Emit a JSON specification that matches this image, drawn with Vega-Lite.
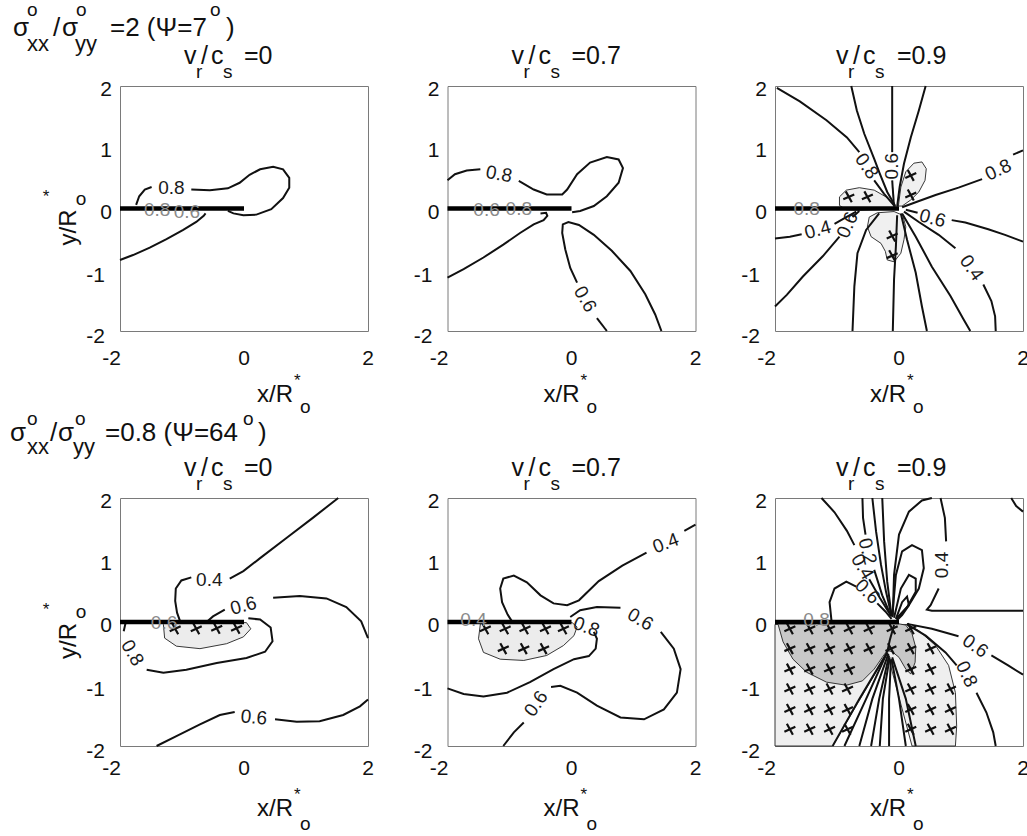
{
  "$schema": "https://vega.github.io/schema/vega-lite/v6.json",
  "background": "white",
  "padding": {"left": 9, "top": 0, "right": 0, "bottom": 0},
  "config": {
    "font": "Liberation Sans",
    "view": {"stroke": "#7a7a7a", "strokeWidth": 1},
    "text": {"font": "Liberation Sans", "fontSize": 25, "align": "left", "baseline": "alphabetic", "color": "#111"}
  },
  "datasets": {
    "crack": [{"x": -2, "y": 0}, {"x": 0, "y": 0}],
    "xt": [{"v": -2, "t": "-2"}, {"v": 0, "t": "0"}, {"v": 2, "t": "2"}],
    "yt": [{"v": -2, "t": "-2"}, {"v": -1, "t": "-1"}, {"v": 0, "t": "0"}, {"v": 1, "t": "1"}, {"v": 2, "t": "2"}],
    "lines": [
      {"p":"a","c":1,"x":-1.74,"y":0.06},{"p":"a","c":1,"x":-1.69,"y":0.2},{"p":"a","c":1,"x":-1.6,"y":0.31},{"p":"a","c":1,"x":-1.49,"y":0.35},
      {"p":"a","c":2,"x":-0.85,"y":0.31},{"p":"a","c":2,"x":-0.55,"y":0.3},{"p":"a","c":2,"x":-0.26,"y":0.33},{"p":"a","c":2,"x":-0.07,"y":0.42},{"p":"a","c":2,"x":0.09,"y":0.55},{"p":"a","c":2,"x":0.26,"y":0.64},{"p":"a","c":2,"x":0.47,"y":0.68},{"p":"a","c":2,"x":0.63,"y":0.64},{"p":"a","c":2,"x":0.73,"y":0.5},{"p":"a","c":2,"x":0.73,"y":0.34},{"p":"a","c":2,"x":0.63,"y":0.17},{"p":"a","c":2,"x":0.44,"y":-0.01},{"p":"a","c":2,"x":0.2,"y":-0.1},{"p":"a","c":2,"x":-0.01,"y":-0.11},{"p":"a","c":2,"x":-0.17,"y":-0.08},{"p":"a","c":2,"x":-0.26,"y":-0.04},
      {"p":"a","c":3,"x":-2,"y":-0.84},{"p":"a","c":3,"x":-1.79,"y":-0.76},{"p":"a","c":3,"x":-1.52,"y":-0.64},{"p":"a","c":3,"x":-1.25,"y":-0.5},{"p":"a","c":3,"x":-0.98,"y":-0.35},{"p":"a","c":3,"x":-0.77,"y":-0.22},{"p":"a","c":3,"x":-0.65,"y":-0.12},{"p":"a","c":3,"x":-0.62,"y":-0.08},
      {"p":"b","c":4,"x":-2,"y":0.46},{"p":"b","c":4,"x":-1.88,"y":0.56},{"p":"b","c":4,"x":-1.69,"y":0.62},{"p":"b","c":4,"x":-1.47,"y":0.64},
      {"p":"b","c":5,"x":-0.85,"y":0.45},{"p":"b","c":5,"x":-0.61,"y":0.31},{"p":"b","c":5,"x":-0.4,"y":0.23},{"p":"b","c":5,"x":-0.15,"y":0.23},{"p":"b","c":5,"x":-0.07,"y":0.31},{"p":"b","c":5,"x":0.09,"y":0.56},{"p":"b","c":5,"x":0.3,"y":0.75},{"p":"b","c":5,"x":0.57,"y":0.84},{"p":"b","c":5,"x":0.76,"y":0.8},{"p":"b","c":5,"x":0.83,"y":0.66},{"p":"b","c":5,"x":0.76,"y":0.42},{"p":"b","c":5,"x":0.57,"y":0.2},{"p":"b","c":5,"x":0.36,"y":0.04},{"p":"b","c":5,"x":0.14,"y":-0.04},{"p":"b","c":5,"x":0.01,"y":-0.06},
      {"p":"b","c":6,"x":-2,"y":-1.13},{"p":"b","c":6,"x":-1.74,"y":-0.99},{"p":"b","c":6,"x":-1.42,"y":-0.8},{"p":"b","c":6,"x":-1.1,"y":-0.59},{"p":"b","c":6,"x":-0.83,"y":-0.4},{"p":"b","c":6,"x":-0.61,"y":-0.26},{"p":"b","c":6,"x":-0.45,"y":-0.19},{"p":"b","c":6,"x":-0.39,"y":-0.12},{"p":"b","c":6,"x":-0.41,"y":-0.07},{"p":"b","c":6,"x":-0.5,"y":-0.08},
      {"p":"b","c":7,"x":0.57,"y":-2},{"p":"b","c":7,"x":0.41,"y":-1.79},
      {"p":"b","c":8,"x":0.09,"y":-1.21},{"p":"b","c":8,"x":-0.02,"y":-0.97},{"p":"b","c":8,"x":-0.1,"y":-0.67},{"p":"b","c":8,"x":-0.15,"y":-0.4},{"p":"b","c":8,"x":-0.14,"y":-0.26},{"p":"b","c":8,"x":-0.05,"y":-0.22},{"p":"b","c":8,"x":0.12,"y":-0.27},{"p":"b","c":8,"x":0.36,"y":-0.43},{"p":"b","c":8,"x":0.65,"y":-0.69},{"p":"b","c":8,"x":0.95,"y":-1.02},{"p":"b","c":8,"x":1.19,"y":-1.4},{"p":"b","c":8,"x":1.35,"y":-1.73},{"p":"b","c":8,"x":1.45,"y":-2},
      {"p":"c","c":9,"x":-1.97,"y":1.97},{"p":"c","c":9,"x":-1.6,"y":1.75},{"p":"c","c":9,"x":-1.17,"y":1.44},{"p":"c","c":9,"x":-0.84,"y":1.16},{"p":"c","c":9,"x":-0.64,"y":0.92},
      {"p":"c","c":10,"x":-0.4,"y":0.46},{"p":"c","c":10,"x":-0.24,"y":0.24},{"p":"c","c":10,"x":-0.08,"y":0.05},
      {"p":"c","c":11,"x":-0.77,"y":2},{"p":"c","c":11,"x":-0.68,"y":1.6},{"p":"c","c":11,"x":-0.56,"y":1.22},{"p":"c","c":11,"x":-0.4,"y":0.81},{"p":"c","c":11,"x":-0.31,"y":0.57},{"p":"c","c":11,"x":-0.19,"y":0.27},{"p":"c","c":11,"x":-0.06,"y":0.04},
      {"p":"c","c":12,"x":-0.11,"y":2},{"p":"c","c":12,"x":-0.11,"y":0.92},
      {"p":"c","c":13,"x":-0.11,"y":0.46},{"p":"c","c":13,"x":-0.08,"y":0.03},
      {"p":"c","c":14,"x":0.43,"y":2},{"p":"c","c":14,"x":0.32,"y":1.6},{"p":"c","c":14,"x":0.19,"y":1.16},{"p":"c","c":14,"x":0.08,"y":0.73},{"p":"c","c":14,"x":0.01,"y":0.35},{"p":"c","c":14,"x":-0.03,"y":0.03},
      {"p":"c","c":15,"x":2,"y":0.95},{"p":"c","c":15,"x":1.84,"y":0.88},
      {"p":"c","c":16,"x":1.34,"y":0.48},{"p":"c","c":16,"x":0.96,"y":0.34},{"p":"c","c":16,"x":0.59,"y":0.22},{"p":"c","c":16,"x":0.29,"y":0.11},{"p":"c","c":16,"x":0.05,"y":0.02},
      {"p":"c","c":17,"x":2,"y":-0.54},{"p":"c","c":17,"x":1.71,"y":-0.43},{"p":"c","c":17,"x":1.44,"y":-0.34},{"p":"c","c":17,"x":1.07,"y":-0.23},{"p":"c","c":17,"x":0.85,"y":-0.19},
      {"p":"c","c":18,"x":0.3,"y":-0.07},{"p":"c","c":18,"x":0.11,"y":-0.02},
      {"p":"c","c":19,"x":0.08,"y":-0.05},{"p":"c","c":19,"x":0.32,"y":-0.22},{"p":"c","c":19,"x":0.64,"y":-0.43},{"p":"c","c":19,"x":0.91,"y":-0.65},
      {"p":"c","c":20,"x":1.36,"y":-1.24},{"p":"c","c":20,"x":1.49,"y":-1.51},{"p":"c","c":20,"x":1.55,"y":-1.76},{"p":"c","c":20,"x":1.56,"y":-2},
      {"p":"c","c":21,"x":0.05,"y":-0.08},{"p":"c","c":21,"x":0.27,"y":-0.46},{"p":"c","c":21,"x":0.53,"y":-0.95},{"p":"c","c":21,"x":0.83,"y":-1.43},{"p":"c","c":21,"x":1.04,"y":-1.81},{"p":"c","c":21,"x":1.15,"y":-2},
      {"p":"c","c":22,"x":0.03,"y":-0.08},{"p":"c","c":22,"x":0.13,"y":-0.51},{"p":"c","c":22,"x":0.27,"y":-1.05},{"p":"c","c":22,"x":0.37,"y":-1.6},{"p":"c","c":22,"x":0.45,"y":-2},
      {"p":"c","c":23,"x":-0.03,"y":-0.11},{"p":"c","c":23,"x":-0.05,"y":-0.62},{"p":"c","c":23,"x":-0.08,"y":-1.16},{"p":"c","c":23,"x":-0.1,"y":-2},
      {"p":"c","c":24,"x":-0.32,"y":-0.08},{"p":"c","c":24,"x":-0.53,"y":-0.35},{"p":"c","c":24,"x":-0.67,"y":-0.73},{"p":"c","c":24,"x":-0.72,"y":-1.27},{"p":"c","c":24,"x":-0.75,"y":-2},
      {"p":"c","c":25,"x":-0.64,"y":-0.04},{"p":"c","c":25,"x":-0.75,"y":-0.14},
      {"p":"c","c":26,"x":-0.96,"y":-0.46},{"p":"c","c":26,"x":-1.23,"y":-0.78},{"p":"c","c":26,"x":-1.55,"y":-1.11},{"p":"c","c":26,"x":-1.81,"y":-1.41},{"p":"c","c":26,"x":-2,"y":-1.6},
      {"p":"c","c":27,"x":-2,"y":-0.49},{"p":"c","c":27,"x":-1.76,"y":-0.46},{"p":"c","c":27,"x":-1.57,"y":-0.42},
      {"p":"c","c":28,"x":-1.04,"y":-0.25},{"p":"c","c":28,"x":-0.85,"y":-0.14},{"p":"c","c":28,"x":-0.69,"y":-0.05},
      {"p":"d","c":32,"x":1.52,"y":2},{"p":"d","c":32,"x":1.11,"y":1.68},{"p":"d","c":32,"x":0.69,"y":1.36},{"p":"d","c":32,"x":0.26,"y":1.03},{"p":"d","c":32,"x":-0.01,"y":0.82},{"p":"d","c":32,"x":-0.23,"y":0.7},
      {"p":"d","c":33,"x":-0.85,"y":0.72},{"p":"d","c":33,"x":-1.01,"y":0.67},{"p":"d","c":33,"x":-1.1,"y":0.54},{"p":"d","c":33,"x":-1.11,"y":0.34},{"p":"d","c":33,"x":-1.08,"y":0.15},{"p":"d","c":33,"x":-1.03,"y":0.01},
      {"p":"d","c":34,"x":2,"y":-0.26},{"p":"d","c":34,"x":1.89,"y":0.01},{"p":"d","c":34,"x":1.65,"y":0.24},{"p":"d","c":34,"x":1.33,"y":0.38},{"p":"d","c":34,"x":0.9,"y":0.42},{"p":"d","c":34,"x":0.47,"y":0.39},
      {"p":"d","c":35,"x":-0.31,"y":0.2},{"p":"d","c":35,"x":-0.5,"y":0.09},{"p":"d","c":35,"x":-0.58,"y":0.02},
      {"p":"d","c":36,"x":-1.9,"y":0.03},{"p":"d","c":36,"x":-1.94,"y":-0.15},
      {"p":"d","c":37,"x":-1.57,"y":-0.77},{"p":"d","c":37,"x":-1.3,"y":-0.82},{"p":"d","c":37,"x":-0.93,"y":-0.77},{"p":"d","c":37,"x":-0.44,"y":-0.66},{"p":"d","c":37,"x":0.04,"y":-0.58},{"p":"d","c":37,"x":0.34,"y":-0.48},{"p":"d","c":37,"x":0.46,"y":-0.31},{"p":"d","c":37,"x":0.43,"y":-0.09},{"p":"d","c":37,"x":0.26,"y":0.04},{"p":"d","c":37,"x":0.07,"y":0.06},
      {"p":"d","c":38,"x":-1.41,"y":-2},{"p":"d","c":38,"x":-1.09,"y":-1.84},{"p":"d","c":38,"x":-0.71,"y":-1.65},{"p":"d","c":38,"x":-0.39,"y":-1.5},{"p":"d","c":38,"x":-0.15,"y":-1.45},
      {"p":"d","c":39,"x":0.5,"y":-1.57},{"p":"d","c":39,"x":0.85,"y":-1.61},{"p":"d","c":39,"x":1.22,"y":-1.6},{"p":"d","c":39,"x":1.6,"y":-1.5},{"p":"d","c":39,"x":1.87,"y":-1.36},{"p":"d","c":39,"x":2,"y":-1.25},
      {"p":"e","c":41,"x":2,"y":1.57},{"p":"e","c":41,"x":1.82,"y":1.47},
      {"p":"e","c":42,"x":1.21,"y":1.12},{"p":"e","c":42,"x":0.82,"y":0.91},{"p":"e","c":42,"x":0.44,"y":0.66},{"p":"e","c":42,"x":0.12,"y":0.35},{"p":"e","c":42,"x":-0.07,"y":0.27},{"p":"e","c":42,"x":-0.29,"y":0.3},{"p":"e","c":42,"x":-0.5,"y":0.43},{"p":"e","c":42,"x":-0.72,"y":0.64},{"p":"e","c":42,"x":-0.93,"y":0.75},{"p":"e","c":42,"x":-1.1,"y":0.7},{"p":"e","c":42,"x":-1.15,"y":0.54},{"p":"e","c":42,"x":-1.12,"y":0.32},{"p":"e","c":42,"x":-1.03,"y":0.12},{"p":"e","c":42,"x":-0.96,"y":0.01},
      {"p":"e","c":43,"x":-0.02,"y":0.08},{"p":"e","c":43,"x":0.14,"y":0.19},{"p":"e","c":43,"x":0.41,"y":0.24},{"p":"e","c":43,"x":0.79,"y":0.23},
      {"p":"e","c":44,"x":1.44,"y":-0.16},{"p":"e","c":44,"x":1.65,"y":-0.43},{"p":"e","c":44,"x":1.76,"y":-0.76},{"p":"e","c":44,"x":1.7,"y":-1.14},{"p":"e","c":44,"x":1.49,"y":-1.41},{"p":"e","c":44,"x":1.17,"y":-1.57},{"p":"e","c":44,"x":0.79,"y":-1.54},{"p":"e","c":44,"x":0.41,"y":-1.35},{"p":"e","c":44,"x":0.09,"y":-1.14},{"p":"e","c":44,"x":-0.18,"y":-1.03},{"p":"e","c":44,"x":-0.33,"y":-1.05},
      {"p":"e","c":45,"x":-0.77,"y":-1.62},{"p":"e","c":45,"x":-0.93,"y":-1.78},{"p":"e","c":45,"x":-1.1,"y":-2},
      {"p":"e","c":46,"x":-2,"y":-1.07},{"p":"e","c":46,"x":-1.74,"y":-1.16},{"p":"e","c":46,"x":-1.42,"y":-1.2},{"p":"e","c":46,"x":-1.04,"y":-1.14},{"p":"e","c":46,"x":-0.67,"y":-0.97},{"p":"e","c":46,"x":-0.29,"y":-0.76},{"p":"e","c":46,"x":0.04,"y":-0.6},{"p":"e","c":46,"x":0.28,"y":-0.55},{"p":"e","c":46,"x":0.39,"y":-0.43},{"p":"e","c":46,"x":0.41,"y":-0.27},{"p":"e","c":46,"x":0.36,"y":-0.16},
      {"p":"f","c":48,"x":-1.25,"y":2},{"p":"f","c":48,"x":-1.04,"y":1.77},{"p":"f","c":48,"x":-0.84,"y":1.47},{"p":"f","c":48,"x":-0.72,"y":1.24},
      {"p":"f","c":49,"x":-0.48,"y":0.69},{"p":"f","c":49,"x":-0.31,"y":0.39},{"p":"f","c":49,"x":-0.13,"y":0.1},
      {"p":"f","c":50,"x":-0.59,"y":2},{"p":"f","c":50,"x":-0.58,"y":1.68},{"p":"f","c":50,"x":-0.54,"y":1.41},
      {"p":"f","c":51,"x":-0.4,"y":0.84},{"p":"f","c":51,"x":-0.27,"y":0.43},{"p":"f","c":51,"x":-0.13,"y":0.1},
      {"p":"f","c":52,"x":-0.43,"y":2},{"p":"f","c":52,"x":-0.37,"y":1.46},{"p":"f","c":52,"x":-0.29,"y":0.92},{"p":"f","c":52,"x":-0.21,"y":0.49},{"p":"f","c":52,"x":-0.12,"y":0.1},
      {"p":"f","c":53,"x":-0.27,"y":2},{"p":"f","c":53,"x":-0.24,"y":1.3},{"p":"f","c":53,"x":-0.19,"y":0.65},{"p":"f","c":53,"x":-0.12,"y":0.1},
      {"p":"f","c":54,"x":-1.09,"y":0.03},{"p":"f","c":54,"x":-1.12,"y":0.32},{"p":"f","c":54,"x":-1.04,"y":0.54},{"p":"f","c":54,"x":-0.85,"y":0.65},{"p":"f","c":54,"x":-0.69,"y":0.57},
      {"p":"f","c":55,"x":-0.35,"y":0.3},{"p":"f","c":55,"x":-0.22,"y":0.17},{"p":"f","c":55,"x":-0.12,"y":0.05},
      {"p":"f","c":56,"x":-0.11,"y":0.08},{"p":"f","c":56,"x":-0.05,"y":0.76},{"p":"f","c":56,"x":0.05,"y":1.14},{"p":"f","c":56,"x":0.21,"y":1.24},{"p":"f","c":56,"x":0.37,"y":1.16},{"p":"f","c":56,"x":0.4,"y":0.87},{"p":"f","c":56,"x":0.32,"y":0.54},{"p":"f","c":56,"x":0.16,"y":0.27},{"p":"f","c":56,"x":-0.05,"y":0.05},
      {"p":"f","c":57,"x":-0.08,"y":0.07},{"p":"f","c":57,"x":0.03,"y":0.54},{"p":"f","c":57,"x":0.16,"y":0.76},{"p":"f","c":57,"x":0.27,"y":0.7},{"p":"f","c":57,"x":0.27,"y":0.49},{"p":"f","c":57,"x":0.13,"y":0.24},{"p":"f","c":57,"x":-0.04,"y":0.04},
      {"p":"f","c":58,"x":-0.05,"y":0.05},{"p":"f","c":58,"x":0.05,"y":0.32},{"p":"f","c":58,"x":0.13,"y":0.41},{"p":"f","c":58,"x":0.16,"y":0.27},{"p":"f","c":58,"x":0.05,"y":0.11},{"p":"f","c":58,"x":-0.03,"y":0.03},
      {"p":"f","c":59,"x":0.67,"y":2},{"p":"f","c":59,"x":0.74,"y":1.68},{"p":"f","c":59,"x":0.76,"y":1.3},
      {"p":"f","c":60,"x":0.64,"y":0.54},{"p":"f","c":60,"x":0.51,"y":0.27},{"p":"f","c":60,"x":0.45,"y":0.2},{"p":"f","c":60,"x":0.53,"y":0.18},{"p":"f","c":60,"x":2,"y":0.18},
      {"p":"f","c":61,"x":-0.1,"y":0.1},{"p":"f","c":61,"x":-0.08,"y":0.76},{"p":"f","c":61,"x":0,"y":1.41},{"p":"f","c":61,"x":0.16,"y":1.78},{"p":"f","c":61,"x":0.37,"y":1.96},{"p":"f","c":61,"x":0.53,"y":2},
      {"p":"f","c":62,"x":1.81,"y":2},{"p":"f","c":62,"x":1.89,"y":1.87},{"p":"f","c":62,"x":2,"y":1.78},
      {"p":"f","c":63,"x":0.13,"y":-0.03},{"p":"f","c":63,"x":0.53,"y":-0.11},{"p":"f","c":63,"x":0.96,"y":-0.23},
      {"p":"f","c":64,"x":1.49,"y":-0.54},{"p":"f","c":64,"x":1.76,"y":-0.7},{"p":"f","c":64,"x":2,"y":-0.85},
      {"p":"f","c":65,"x":0.13,"y":-0.04},{"p":"f","c":65,"x":0.43,"y":-0.22},{"p":"f","c":65,"x":0.75,"y":-0.49},{"p":"f","c":65,"x":0.93,"y":-0.7},
      {"p":"f","c":66,"x":1.25,"y":-1.14},{"p":"f","c":66,"x":1.41,"y":-1.46},{"p":"f","c":66,"x":1.52,"y":-1.78},{"p":"f","c":66,"x":1.56,"y":-2},
      {"p":"f","c":67,"x":-0.19,"y":-0.49},{"p":"f","c":67,"x":-0.64,"y":-1.24},{"p":"f","c":67,"x":-1.07,"y":-2},
      {"p":"f","c":68,"x":-0.19,"y":-0.49},{"p":"f","c":68,"x":-0.53,"y":-1.24},{"p":"f","c":68,"x":-0.88,"y":-2},
      {"p":"f","c":69,"x":-0.17,"y":-0.51},{"p":"f","c":69,"x":-0.43,"y":-1.24},{"p":"f","c":69,"x":-0.64,"y":-2},
      {"p":"f","c":70,"x":-0.16,"y":-0.54},{"p":"f","c":70,"x":-0.32,"y":-1.24},{"p":"f","c":70,"x":-0.45,"y":-2},
      {"p":"f","c":71,"x":-0.15,"y":-0.57},{"p":"f","c":71,"x":-0.26,"y":-1.24},{"p":"f","c":71,"x":-0.31,"y":-2},
      {"p":"f","c":72,"x":-0.13,"y":-0.6},{"p":"f","c":72,"x":-0.16,"y":-1.24},{"p":"f","c":72,"x":-0.16,"y":-2},
      {"p":"f","c":73,"x":-0.12,"y":-0.6},{"p":"f","c":73,"x":0,"y":-1.24},{"p":"f","c":73,"x":0.11,"y":-2},
      {"p":"f","c":74,"x":-0.11,"y":-0.57},{"p":"f","c":74,"x":0.11,"y":-1.24},{"p":"f","c":74,"x":0.27,"y":-2},
      {"p":"f","c":75,"x":-0.19,"y":-0.49},{"p":"f","c":75,"x":-0.15,"y":-0.3},{"p":"f","c":75,"x":-0.08,"y":-0.05}
    ],
    "zones": [
      {"p":"c","z":1,"c":29,"x":-0.01,"y":0.04},{"p":"c","z":1,"c":29,"x":0.03,"y":0.35},{"p":"c","z":1,"c":29,"x":0.11,"y":0.6},{"p":"c","z":1,"c":29,"x":0.24,"y":0.74},{"p":"c","z":1,"c":29,"x":0.37,"y":0.76},{"p":"c","z":1,"c":29,"x":0.44,"y":0.65},{"p":"c","z":1,"c":29,"x":0.42,"y":0.46},{"p":"c","z":1,"c":29,"x":0.32,"y":0.27},{"p":"c","z":1,"c":29,"x":0.19,"y":0.14},{"p":"c","z":1,"c":29,"x":0.05,"y":0.04},{"p":"c","z":1,"c":29,"x":-0.01,"y":0.04},
      {"p":"c","z":1,"c":30,"x":-0.05,"y":0.02},{"p":"c","z":1,"c":30,"x":-0.21,"y":0.19},{"p":"c","z":1,"c":30,"x":-0.4,"y":0.3},{"p":"c","z":1,"c":30,"x":-0.64,"y":0.34},{"p":"c","z":1,"c":30,"x":-0.85,"y":0.3},{"p":"c","z":1,"c":30,"x":-0.96,"y":0.19},{"p":"c","z":1,"c":30,"x":-0.96,"y":0.05},{"p":"c","z":1,"c":30,"x":-0.85,"y":-0.02},{"p":"c","z":1,"c":30,"x":-0.64,"y":-0.03},{"p":"c","z":1,"c":30,"x":-0.37,"y":-0.02},{"p":"c","z":1,"c":30,"x":-0.05,"y":0.02},
      {"p":"c","z":1,"c":31,"x":-0.08,"y":-0.05},{"p":"c","z":1,"c":31,"x":-0.35,"y":-0.07},{"p":"c","z":1,"c":31,"x":-0.48,"y":-0.14},{"p":"c","z":1,"c":31,"x":-0.51,"y":-0.3},{"p":"c","z":1,"c":31,"x":-0.45,"y":-0.46},{"p":"c","z":1,"c":31,"x":-0.29,"y":-0.57},{"p":"c","z":1,"c":31,"x":-0.22,"y":-0.7},{"p":"c","z":1,"c":31,"x":-0.19,"y":-0.84},{"p":"c","z":1,"c":31,"x":-0.08,"y":-0.87},{"p":"c","z":1,"c":31,"x":0.03,"y":-0.73},{"p":"c","z":1,"c":31,"x":0.08,"y":-0.51},{"p":"c","z":1,"c":31,"x":0.11,"y":-0.3},{"p":"c","z":1,"c":31,"x":0.06,"y":-0.11},{"p":"c","z":1,"c":31,"x":-0.08,"y":-0.05},
      {"p":"d","z":1,"c":40,"x":-1.3,"y":-0.02},{"p":"d","z":1,"c":40,"x":-1.3,"y":-0.04},{"p":"d","z":1,"c":40,"x":-1.28,"y":-0.26},{"p":"d","z":1,"c":40,"x":-1.09,"y":-0.39},{"p":"d","z":1,"c":40,"x":-0.71,"y":-0.43},{"p":"d","z":1,"c":40,"x":-0.28,"y":-0.35},{"p":"d","z":1,"c":40,"x":-0.01,"y":-0.24},{"p":"d","z":1,"c":40,"x":0.11,"y":-0.11},{"p":"d","z":1,"c":40,"x":0.04,"y":-0.01},{"p":"d","z":1,"c":40,"x":-1.3,"y":-0.02},
      {"p":"e","z":1,"c":47,"x":-1.47,"y":-0.01},{"p":"e","z":1,"c":47,"x":-1.47,"y":-0.03},{"p":"e","z":1,"c":47,"x":-1.5,"y":-0.27},{"p":"e","z":1,"c":47,"x":-1.42,"y":-0.49},{"p":"e","z":1,"c":47,"x":-1.15,"y":-0.6},{"p":"e","z":1,"c":47,"x":-0.77,"y":-0.62},{"p":"e","z":1,"c":47,"x":-0.4,"y":-0.54},{"p":"e","z":1,"c":47,"x":-0.13,"y":-0.38},{"p":"e","z":1,"c":47,"x":0.04,"y":-0.22},{"p":"e","z":1,"c":47,"x":0.09,"y":-0.08},{"p":"e","z":1,"c":47,"x":0.01,"y":-0.01},{"p":"e","z":1,"c":47,"x":-1.47,"y":-0.01},
      {"p":"f","z":1,"c":76,"x":-2,"y":-0.04},{"p":"f","z":1,"c":76,"x":-2,"y":-2},{"p":"f","z":1,"c":76,"x":-1.07,"y":-2},{"p":"f","z":1,"c":76,"x":-0.19,"y":-0.5},{"p":"f","z":1,"c":76,"x":0.21,"y":-2},{"p":"f","z":1,"c":76,"x":0.91,"y":-2},{"p":"f","z":1,"c":76,"x":0.93,"y":-1.68},{"p":"f","z":1,"c":76,"x":0.91,"y":-1.14},{"p":"f","z":1,"c":76,"x":0.8,"y":-0.7},{"p":"f","z":1,"c":76,"x":0.59,"y":-0.38},{"p":"f","z":1,"c":76,"x":0.32,"y":-0.14},{"p":"f","z":1,"c":76,"x":0.13,"y":-0.04},{"p":"f","z":1,"c":76,"x":-2,"y":-0.04},
      {"p":"f","z":2,"c":77,"x":-1.95,"y":-0.04},{"p":"f","z":2,"c":77,"x":-1.87,"y":-0.32},{"p":"f","z":2,"c":77,"x":-1.71,"y":-0.6},{"p":"f","z":2,"c":77,"x":-1.49,"y":-0.81},{"p":"f","z":2,"c":77,"x":-1.17,"y":-0.97},{"p":"f","z":2,"c":77,"x":-0.85,"y":-1.02},{"p":"f","z":2,"c":77,"x":-0.59,"y":-0.95},{"p":"f","z":2,"c":77,"x":-0.4,"y":-0.76},{"p":"f","z":2,"c":77,"x":-0.27,"y":-0.57},{"p":"f","z":2,"c":77,"x":-0.19,"y":-0.46},{"p":"f","z":2,"c":77,"x":-0.11,"y":-0.48},{"p":"f","z":2,"c":77,"x":0,"y":-0.57},{"p":"f","z":2,"c":77,"x":0.11,"y":-0.76},{"p":"f","z":2,"c":77,"x":0.19,"y":-0.84},{"p":"f","z":2,"c":77,"x":0.26,"y":-0.65},{"p":"f","z":2,"c":77,"x":0.27,"y":-0.41},{"p":"f","z":2,"c":77,"x":0.21,"y":-0.19},{"p":"f","z":2,"c":77,"x":0.11,"y":-0.05},{"p":"f","z":2,"c":77,"x":0,"y":-0.03},{"p":"f","z":2,"c":77,"x":-1.95,"y":-0.03}
    ],
    "labels": [
      {"p":"a","t":"0.8","x":-1.17,"y":0.33,"r":0},{"p":"a","t":"0.8","x":-1.4,"y":-0.03,"r":0},{"p":"a","t":"0.6","x":-0.92,"y":-0.05,"r":0},
      {"p":"b","t":"0.8","x":-1.17,"y":0.56,"r":10},{"p":"b","t":"0.6","x":-1.37,"y":-0.03,"r":0},{"p":"b","t":"0.8","x":-0.85,"y":-0.01,"r":0},{"p":"b","t":"0.6","x":0.22,"y":-1.48,"r":60},
      {"p":"c","t":"0.8","x":-1.49,"y":0,"r":0},{"p":"c","t":"0.8","x":-0.52,"y":0.69,"r":55},{"p":"c","t":"0.6","x":-0.11,"y":0.69,"r":-90},{"p":"c","t":"0.8","x":1.6,"y":0.63,"r":-25},{"p":"c","t":"0.6","x":0.54,"y":-0.16,"r":15},{"p":"c","t":"0.4","x":1.17,"y":-0.97,"r":55},{"p":"c","t":"0.6","x":-0.83,"y":-0.27,"r":-65},{"p":"c","t":"0.4","x":-1.31,"y":-0.35,"r":-15},
      {"p":"d","t":"0.4","x":-0.56,"y":0.67,"r":0},{"p":"d","t":"0.6","x":-0.01,"y":0.26,"r":-15},{"p":"d","t":"0.8","x":-1.8,"y":-0.5,"r":60},{"p":"d","t":"0.6","x":0.16,"y":-1.54,"r":5},{"p":"d","t":"0.6","x":-1.29,"y":-0.01,"r":0},
      {"p":"e","t":"0.4","x":-1.58,"y":0.03,"r":0},{"p":"e","t":"0.4","x":1.52,"y":1.27,"r":-20},{"p":"e","t":"0.6","x":1.11,"y":0.04,"r":30},{"p":"e","t":"0.6","x":-0.57,"y":-1.32,"r":-55},{"p":"e","t":"0.8","x":0.24,"y":-0.08,"r":20},
      {"p":"f","t":"0.8","x":-1.33,"y":0.03,"r":0},{"p":"f","t":"0.4","x":-0.59,"y":0.89,"r":60},{"p":"f","t":"0.2","x":-0.51,"y":1.14,"r":75},{"p":"f","t":"0.6","x":-0.51,"y":0.49,"r":45},{"p":"f","t":"0.4","x":0.69,"y":0.92,"r":-90},{"p":"f","t":"0.6","x":1.23,"y":-0.39,"r":35},{"p":"f","t":"0.8","x":1.09,"y":-0.84,"r":65}
    ],
    "marks": [
      {"p":"c","x":0.19,"y":0.54},{"p":"c","x":0.19,"y":0.22},{"p":"c","x":-0.81,"y":0.19},{"p":"c","x":-0.51,"y":0.19},{"p":"c","x":-0.11,"y":-0.45},{"p":"c","x":-0.11,"y":-0.77},
      {"p":"d","x":-1.11,"y":-0.11},{"p":"d","x":-0.77,"y":-0.11},{"p":"d","x":-0.44,"y":-0.1},{"p":"d","x":-0.12,"y":-0.1},
      {"p":"e","x":-1.39,"y":-0.11},{"p":"e","x":-1.07,"y":-0.11},{"p":"e","x":-0.75,"y":-0.11},{"p":"e","x":-0.42,"y":-0.11},{"p":"e","x":-0.13,"y":-0.11},{"p":"e","x":-1.1,"y":-0.43},{"p":"e","x":-0.77,"y":-0.43},{"p":"e","x":-0.45,"y":-0.43},
      {"p":"f","x":-1.76,"y":-0.11},{"p":"f","x":-1.44,"y":-0.11},{"p":"f","x":-1.12,"y":-0.11},{"p":"f","x":-0.8,"y":-0.11},{"p":"f","x":-0.48,"y":-0.11},{"p":"f","x":-0.11,"y":-0.11},{"p":"f","x":0.19,"y":-0.11},
      {"p":"f","x":-1.76,"y":-0.43},{"p":"f","x":-1.44,"y":-0.43},{"p":"f","x":-1.12,"y":-0.43},{"p":"f","x":-0.8,"y":-0.43},{"p":"f","x":-0.48,"y":-0.43},{"p":"f","x":-0.13,"y":-0.43},{"p":"f","x":0.19,"y":-0.43},{"p":"f","x":0.51,"y":-0.43},
      {"p":"f","x":-1.76,"y":-0.76},{"p":"f","x":-1.44,"y":-0.76},{"p":"f","x":-1.12,"y":-0.76},{"p":"f","x":-0.8,"y":-0.76},{"p":"f","x":0.19,"y":-0.76},{"p":"f","x":0.51,"y":-0.76},
      {"p":"f","x":-1.76,"y":-1.08},{"p":"f","x":-1.44,"y":-1.08},{"p":"f","x":-1.12,"y":-1.08},{"p":"f","x":-0.83,"y":-1.08},{"p":"f","x":0.19,"y":-1.08},{"p":"f","x":0.51,"y":-1.08},{"p":"f","x":0.83,"y":-1.08},
      {"p":"f","x":-1.76,"y":-1.41},{"p":"f","x":-1.44,"y":-1.41},{"p":"f","x":-1.12,"y":-1.41},{"p":"f","x":-0.83,"y":-1.41},{"p":"f","x":0.19,"y":-1.41},{"p":"f","x":0.51,"y":-1.41},{"p":"f","x":0.83,"y":-1.41},
      {"p":"f","x":-1.76,"y":-1.73},{"p":"f","x":-1.44,"y":-1.73},{"p":"f","x":-1.12,"y":-1.73},{"p":"f","x":-0.83,"y":-1.73},{"p":"f","x":0.19,"y":-1.73},{"p":"f","x":0.51,"y":-1.73},{"p":"f","x":0.83,"y":-1.73}
    ]
  },
  "columns": 3,
  "bounds": "flush",
  "spacing": {"row": 167, "column": 79.5},
  "concat": [
    {
      "width": 248, "height": 245,
      "layer": [
        {"data": {"name": "lines"}, "transform": [{"filter": "datum.p == 'a'"}], "mark": {"type": "line", "strokeWidth": 2, "color": "#111"},
         "encoding": {"x": {"field": "x", "type": "quantitative", "scale": {"domain": [-2, 2]}, "axis": null}, "y": {"field": "y", "type": "quantitative", "scale": {"domain": [-2, 2]}, "axis": null}, "detail": {"field": "c", "type": "nominal"}, "order": {"value": null}}},
        {"data": {"name": "crack"}, "mark": {"type": "line", "strokeWidth": 4.5, "color": "#000"},
         "encoding": {"x": {"field": "x", "type": "quantitative", "scale": {"domain": [-2, 2]}, "axis": null}, "y": {"field": "y", "type": "quantitative", "scale": {"domain": [-2, 2]}, "axis": null}, "order": {"value": null}}},
        {"data": {"name": "labels"}, "transform": [{"filter": "datum.p == 'a' && !(abs(datum.y) < 0.06 && datum.x < 0)"}], "mark": {"type": "text", "align": "center", "baseline": "middle", "fontSize": 19, "color": "#1a1a1a"},
         "encoding": {"x": {"field": "x", "type": "quantitative", "scale": {"domain": [-2, 2]}, "axis": null}, "y": {"field": "y", "type": "quantitative", "scale": {"domain": [-2, 2]}, "axis": null}, "text": {"field": "t", "type": "nominal"}, "angle": {"field": "r", "type": "quantitative", "scale": null}}},
        {"data": {"name": "labels"}, "transform": [{"filter": "datum.p == 'a' && abs(datum.y) < 0.06 && datum.x < 0"}], "mark": {"type": "text", "align": "center", "baseline": "middle", "fontSize": 19, "color": "#8a8a8a"},
         "encoding": {"x": {"field": "x", "type": "quantitative", "scale": {"domain": [-2, 2]}, "axis": null}, "y": {"field": "y", "type": "quantitative", "scale": {"domain": [-2, 2]}, "axis": null}, "text": {"field": "t", "type": "nominal"}}},
        {"data": {"name": "xt"}, "transform": [{"filter": "datum.v >= 0"}], "mark": {"type": "text", "align": "center", "baseline": "top", "fontSize": 21, "dy": 17},
         "encoding": {"x": {"field": "v", "type": "quantitative", "scale": {"domain": [-2, 2]}, "axis": null}, "y": {"datum": -2, "type": "quantitative", "scale": {"domain": [-2, 2]}, "axis": null}, "text": {"field": "t", "type": "nominal"}}},
        {"data": {"name": "xt"}, "transform": [{"filter": "datum.v < 0"}], "mark": {"type": "text", "align": "right", "baseline": "top", "fontSize": 21, "dy": 17, "dx": 1},
         "encoding": {"x": {"field": "v", "type": "quantitative", "scale": {"domain": [-2, 2]}, "axis": null}, "y": {"datum": -2, "type": "quantitative", "scale": {"domain": [-2, 2]}, "axis": null}, "text": {"field": "t", "type": "nominal"}}},
        {"data": {"name": "yt"}, "transform": [{"filter": "datum.v >= 0"}], "mark": {"type": "text", "align": "right", "baseline": "middle", "fontSize": 21, "dx": -8, "dy": 4},
         "encoding": {"x": {"datum": -2, "type": "quantitative", "scale": {"domain": [-2, 2]}, "axis": null}, "y": {"field": "v", "type": "quantitative", "scale": {"domain": [-2, 2]}, "axis": null}, "text": {"field": "t", "type": "nominal"}}},
        {"data": {"name": "yt"}, "transform": [{"filter": "datum.v < 0"}], "mark": {"type": "text", "align": "right", "baseline": "middle", "fontSize": 21, "dx": -15, "dy": 6},
         "encoding": {"x": {"datum": -2, "type": "quantitative", "scale": {"domain": [-2, 2]}, "axis": null}, "y": {"field": "v", "type": "quantitative", "scale": {"domain": [-2, 2]}, "axis": null}, "text": {"field": "t", "type": "nominal"}}},
        {"data": {"values": [{}]},
         "encoding": {"x": {"datum": 0, "type": "quantitative", "scale": {"domain": [-2, 2]}, "axis": null}, "y": {"datum": 2, "type": "quantitative", "scale": {"domain": [-2, 2]}, "axis": null}},
         "layer": [
          {"mark": {"type": "text", "dx": -60, "dy": -22}, "encoding": {"text": {"value": "v"}}},
          {"mark": {"type": "text", "dx": -48, "dy": -8, "fontSize": 19}, "encoding": {"text": {"value": "r"}}},
          {"mark": {"type": "text", "dx": -43, "dy": -22}, "encoding": {"text": {"value": "/"}}},
          {"mark": {"type": "text", "dx": -33, "dy": -22}, "encoding": {"text": {"value": "c"}}},
          {"mark": {"type": "text", "dx": -21, "dy": -8, "fontSize": 19}, "encoding": {"text": {"value": "s"}}},
          {"mark": {"type": "text", "dx": 0, "dy": -22}, "encoding": {"text": {"value": "=0"}}}
         ]},
        {"data": {"values": [{}]},
         "encoding": {"x": {"datum": 0, "type": "quantitative", "scale": {"domain": [-2, 2]}, "axis": null}, "y": {"datum": -2, "type": "quantitative", "scale": {"domain": [-2, 2]}, "axis": null}},
         "layer": [
          {"mark": {"type": "text", "dx": 13, "dy": 71, "fontSize": 24}, "encoding": {"text": {"value": "x/R"}}},
          {"mark": {"type": "text", "dx": 50, "dy": 55, "fontSize": 17}, "encoding": {"text": {"value": "*"}}},
          {"mark": {"type": "text", "dx": 56, "dy": 82, "fontSize": 19}, "encoding": {"text": {"value": "o"}}}
         ]},
        {"data": {"values": [{}]},
         "encoding": {"x": {"datum": -2, "type": "quantitative", "scale": {"domain": [-2, 2]}, "axis": null}, "y": {"datum": 0, "type": "quantitative", "scale": {"domain": [-2, 2]}, "axis": null}},
         "layer": [
          {"mark": {"type": "text", "angle": -90, "align": "center", "dx": -19, "dy": -44, "fontSize": 24}, "encoding": {"text": {"value": "y/R"}}},
          {"mark": {"type": "text", "align": "center", "dx": -39, "dy": -4, "fontSize": 19}, "encoding": {"text": {"value": "o"}}},
          {"mark": {"type": "text", "align": "center", "dx": -74, "dy": -7, "fontSize": 17}, "encoding": {"text": {"value": "*"}}}
         ]},
        {"data": {"values": [{}]},
         "encoding": {"x": {"datum": -2, "type": "quantitative", "scale": {"domain": [-2, 2]}, "axis": null}, "y": {"datum": 2, "type": "quantitative", "scale": {"domain": [-2, 2]}, "axis": null}},
         "layer": [
          {"mark": {"type": "text", "dx": -107, "dy": -50, "fontSize": 26}, "encoding": {"text": {"value": "σ"}}},
          {"mark": {"type": "text", "dx": -93, "dy": -70, "fontSize": 19}, "encoding": {"text": {"value": "o"}}},
          {"mark": {"type": "text", "dx": -93, "dy": -35, "fontSize": 22}, "encoding": {"text": {"value": "xx"}}},
          {"mark": {"type": "text", "dx": -67, "dy": -50, "fontSize": 26}, "encoding": {"text": {"value": "/"}}},
          {"mark": {"type": "text", "dx": -58, "dy": -50, "fontSize": 26}, "encoding": {"text": {"value": "σ"}}},
          {"mark": {"type": "text", "dx": -44, "dy": -70, "fontSize": 19}, "encoding": {"text": {"value": "o"}}},
          {"mark": {"type": "text", "dx": -45, "dy": -35, "fontSize": 22}, "encoding": {"text": {"value": "yy"}}},
          {"mark": {"type": "text", "dx": -10, "dy": -50, "fontSize": 26}, "encoding": {"text": {"value": "=2 (Ψ=7"}}},
          {"mark": {"type": "text", "dx": 90, "dy": -70, "fontSize": 19}, "encoding": {"text": {"value": "o"}}},
          {"mark": {"type": "text", "dx": 106, "dy": -50, "fontSize": 26}, "encoding": {"text": {"value": ")"}}}
         ]}
      ]
    },
    {
      "width": 248, "height": 245,
      "layer": [
        {"data": {"name": "lines"}, "transform": [{"filter": "datum.p == 'b'"}], "mark": {"type": "line", "strokeWidth": 2, "color": "#111"},
         "encoding": {"x": {"field": "x", "type": "quantitative", "scale": {"domain": [-2, 2]}, "axis": null}, "y": {"field": "y", "type": "quantitative", "scale": {"domain": [-2, 2]}, "axis": null}, "detail": {"field": "c", "type": "nominal"}, "order": {"value": null}}},
        {"data": {"name": "crack"}, "mark": {"type": "line", "strokeWidth": 4.5, "color": "#000"},
         "encoding": {"x": {"field": "x", "type": "quantitative", "scale": {"domain": [-2, 2]}, "axis": null}, "y": {"field": "y", "type": "quantitative", "scale": {"domain": [-2, 2]}, "axis": null}, "order": {"value": null}}},
        {"data": {"name": "labels"}, "transform": [{"filter": "datum.p == 'b' && !(abs(datum.y) < 0.06 && datum.x < 0)"}], "mark": {"type": "text", "align": "center", "baseline": "middle", "fontSize": 19, "color": "#1a1a1a"},
         "encoding": {"x": {"field": "x", "type": "quantitative", "scale": {"domain": [-2, 2]}, "axis": null}, "y": {"field": "y", "type": "quantitative", "scale": {"domain": [-2, 2]}, "axis": null}, "text": {"field": "t", "type": "nominal"}, "angle": {"field": "r", "type": "quantitative", "scale": null}}},
        {"data": {"name": "labels"}, "transform": [{"filter": "datum.p == 'b' && abs(datum.y) < 0.06 && datum.x < 0"}], "mark": {"type": "text", "align": "center", "baseline": "middle", "fontSize": 19, "color": "#8a8a8a"},
         "encoding": {"x": {"field": "x", "type": "quantitative", "scale": {"domain": [-2, 2]}, "axis": null}, "y": {"field": "y", "type": "quantitative", "scale": {"domain": [-2, 2]}, "axis": null}, "text": {"field": "t", "type": "nominal"}}},
        {"data": {"name": "xt"}, "transform": [{"filter": "datum.v >= 0"}], "mark": {"type": "text", "align": "center", "baseline": "top", "fontSize": 21, "dy": 17},
         "encoding": {"x": {"field": "v", "type": "quantitative", "scale": {"domain": [-2, 2]}, "axis": null}, "y": {"datum": -2, "type": "quantitative", "scale": {"domain": [-2, 2]}, "axis": null}, "text": {"field": "t", "type": "nominal"}}},
        {"data": {"name": "xt"}, "transform": [{"filter": "datum.v < 0"}], "mark": {"type": "text", "align": "right", "baseline": "top", "fontSize": 21, "dy": 17, "dx": 1},
         "encoding": {"x": {"field": "v", "type": "quantitative", "scale": {"domain": [-2, 2]}, "axis": null}, "y": {"datum": -2, "type": "quantitative", "scale": {"domain": [-2, 2]}, "axis": null}, "text": {"field": "t", "type": "nominal"}}},
        {"data": {"name": "yt"}, "transform": [{"filter": "datum.v >= 0"}], "mark": {"type": "text", "align": "right", "baseline": "middle", "fontSize": 21, "dx": -8, "dy": 4},
         "encoding": {"x": {"datum": -2, "type": "quantitative", "scale": {"domain": [-2, 2]}, "axis": null}, "y": {"field": "v", "type": "quantitative", "scale": {"domain": [-2, 2]}, "axis": null}, "text": {"field": "t", "type": "nominal"}}},
        {"data": {"name": "yt"}, "transform": [{"filter": "datum.v < 0"}], "mark": {"type": "text", "align": "right", "baseline": "middle", "fontSize": 21, "dx": -15, "dy": 6},
         "encoding": {"x": {"datum": -2, "type": "quantitative", "scale": {"domain": [-2, 2]}, "axis": null}, "y": {"field": "v", "type": "quantitative", "scale": {"domain": [-2, 2]}, "axis": null}, "text": {"field": "t", "type": "nominal"}}},
        {"data": {"values": [{}]},
         "encoding": {"x": {"datum": 0, "type": "quantitative", "scale": {"domain": [-2, 2]}, "axis": null}, "y": {"datum": 2, "type": "quantitative", "scale": {"domain": [-2, 2]}, "axis": null}},
         "layer": [
          {"mark": {"type": "text", "dx": -60, "dy": -22}, "encoding": {"text": {"value": "v"}}},
          {"mark": {"type": "text", "dx": -48, "dy": -8, "fontSize": 19}, "encoding": {"text": {"value": "r"}}},
          {"mark": {"type": "text", "dx": -43, "dy": -22}, "encoding": {"text": {"value": "/"}}},
          {"mark": {"type": "text", "dx": -33, "dy": -22}, "encoding": {"text": {"value": "c"}}},
          {"mark": {"type": "text", "dx": -21, "dy": -8, "fontSize": 19}, "encoding": {"text": {"value": "s"}}},
          {"mark": {"type": "text", "dx": 0, "dy": -22}, "encoding": {"text": {"value": "=0.7"}}}
         ]},
        {"data": {"values": [{}]},
         "encoding": {"x": {"datum": 0, "type": "quantitative", "scale": {"domain": [-2, 2]}, "axis": null}, "y": {"datum": -2, "type": "quantitative", "scale": {"domain": [-2, 2]}, "axis": null}},
         "layer": [
          {"mark": {"type": "text", "dx": -28, "dy": 71, "fontSize": 24}, "encoding": {"text": {"value": "x/R"}}},
          {"mark": {"type": "text", "dx": 9, "dy": 55, "fontSize": 17}, "encoding": {"text": {"value": "*"}}},
          {"mark": {"type": "text", "dx": 15, "dy": 82, "fontSize": 19}, "encoding": {"text": {"value": "o"}}}
         ]}
      ]
    },
    {
      "width": 248, "height": 245,
      "layer": [
        {"data": {"name": "zones"}, "transform": [{"filter": "datum.p == 'c' && datum.z == 1"}], "mark": {"type": "line", "fill": "#f0f0f0", "color": "#222", "strokeWidth": 0.9},
         "encoding": {"x": {"field": "x", "type": "quantitative", "scale": {"domain": [-2, 2]}, "axis": null}, "y": {"field": "y", "type": "quantitative", "scale": {"domain": [-2, 2]}, "axis": null}, "detail": {"field": "c", "type": "nominal"}, "order": {"value": null}}},
        {"data": {"name": "marks"}, "transform": [{"filter": "datum.p == 'c'"}], "mark": {"type": "point", "shape": "M-0.55,-1L0.55,1M1,-0.45L-1,0.45", "size": 120, "filled": false, "color": "#111", "strokeWidth": 2.2, "opacity": 1},
         "encoding": {"x": {"field": "x", "type": "quantitative", "scale": {"domain": [-2, 2]}, "axis": null}, "y": {"field": "y", "type": "quantitative", "scale": {"domain": [-2, 2]}, "axis": null}}},
        {"data": {"name": "lines"}, "transform": [{"filter": "datum.p == 'c'"}], "mark": {"type": "line", "strokeWidth": 2, "color": "#111"},
         "encoding": {"x": {"field": "x", "type": "quantitative", "scale": {"domain": [-2, 2]}, "axis": null}, "y": {"field": "y", "type": "quantitative", "scale": {"domain": [-2, 2]}, "axis": null}, "detail": {"field": "c", "type": "nominal"}, "order": {"value": null}}},
        {"data": {"name": "crack"}, "mark": {"type": "line", "strokeWidth": 4.5, "color": "#000"},
         "encoding": {"x": {"field": "x", "type": "quantitative", "scale": {"domain": [-2, 2]}, "axis": null}, "y": {"field": "y", "type": "quantitative", "scale": {"domain": [-2, 2]}, "axis": null}, "order": {"value": null}}},
        {"data": {"name": "labels"}, "transform": [{"filter": "datum.p == 'c' && !(abs(datum.y) < 0.06 && datum.x < 0)"}], "mark": {"type": "text", "align": "center", "baseline": "middle", "fontSize": 19, "color": "#1a1a1a"},
         "encoding": {"x": {"field": "x", "type": "quantitative", "scale": {"domain": [-2, 2]}, "axis": null}, "y": {"field": "y", "type": "quantitative", "scale": {"domain": [-2, 2]}, "axis": null}, "text": {"field": "t", "type": "nominal"}, "angle": {"field": "r", "type": "quantitative", "scale": null}}},
        {"data": {"name": "labels"}, "transform": [{"filter": "datum.p == 'c' && abs(datum.y) < 0.06 && datum.x < 0"}], "mark": {"type": "text", "align": "center", "baseline": "middle", "fontSize": 19, "color": "#8a8a8a"},
         "encoding": {"x": {"field": "x", "type": "quantitative", "scale": {"domain": [-2, 2]}, "axis": null}, "y": {"field": "y", "type": "quantitative", "scale": {"domain": [-2, 2]}, "axis": null}, "text": {"field": "t", "type": "nominal"}}},
        {"data": {"name": "xt"}, "transform": [{"filter": "datum.v >= 0"}], "mark": {"type": "text", "align": "center", "baseline": "top", "fontSize": 21, "dy": 17},
         "encoding": {"x": {"field": "v", "type": "quantitative", "scale": {"domain": [-2, 2]}, "axis": null}, "y": {"datum": -2, "type": "quantitative", "scale": {"domain": [-2, 2]}, "axis": null}, "text": {"field": "t", "type": "nominal"}}},
        {"data": {"name": "xt"}, "transform": [{"filter": "datum.v < 0"}], "mark": {"type": "text", "align": "right", "baseline": "top", "fontSize": 21, "dy": 17, "dx": 1},
         "encoding": {"x": {"field": "v", "type": "quantitative", "scale": {"domain": [-2, 2]}, "axis": null}, "y": {"datum": -2, "type": "quantitative", "scale": {"domain": [-2, 2]}, "axis": null}, "text": {"field": "t", "type": "nominal"}}},
        {"data": {"name": "yt"}, "transform": [{"filter": "datum.v >= 0"}], "mark": {"type": "text", "align": "right", "baseline": "middle", "fontSize": 21, "dx": -8, "dy": 4},
         "encoding": {"x": {"datum": -2, "type": "quantitative", "scale": {"domain": [-2, 2]}, "axis": null}, "y": {"field": "v", "type": "quantitative", "scale": {"domain": [-2, 2]}, "axis": null}, "text": {"field": "t", "type": "nominal"}}},
        {"data": {"name": "yt"}, "transform": [{"filter": "datum.v < 0"}], "mark": {"type": "text", "align": "right", "baseline": "middle", "fontSize": 21, "dx": -15, "dy": 6},
         "encoding": {"x": {"datum": -2, "type": "quantitative", "scale": {"domain": [-2, 2]}, "axis": null}, "y": {"field": "v", "type": "quantitative", "scale": {"domain": [-2, 2]}, "axis": null}, "text": {"field": "t", "type": "nominal"}}},
        {"data": {"values": [{}]},
         "encoding": {"x": {"datum": 0, "type": "quantitative", "scale": {"domain": [-2, 2]}, "axis": null}, "y": {"datum": 2, "type": "quantitative", "scale": {"domain": [-2, 2]}, "axis": null}},
         "layer": [
          {"mark": {"type": "text", "dx": -63, "dy": -22}, "encoding": {"text": {"value": "v"}}},
          {"mark": {"type": "text", "dx": -51, "dy": -8, "fontSize": 19}, "encoding": {"text": {"value": "r"}}},
          {"mark": {"type": "text", "dx": -46, "dy": -22}, "encoding": {"text": {"value": "/"}}},
          {"mark": {"type": "text", "dx": -36, "dy": -22}, "encoding": {"text": {"value": "c"}}},
          {"mark": {"type": "text", "dx": -24, "dy": -8, "fontSize": 19}, "encoding": {"text": {"value": "s"}}},
          {"mark": {"type": "text", "dx": -2, "dy": -22}, "encoding": {"text": {"value": "=0.9"}}}
         ]},
        {"data": {"values": [{}]},
         "encoding": {"x": {"datum": 0, "type": "quantitative", "scale": {"domain": [-2, 2]}, "axis": null}, "y": {"datum": -2, "type": "quantitative", "scale": {"domain": [-2, 2]}, "axis": null}},
         "layer": [
          {"mark": {"type": "text", "dx": -29, "dy": 71, "fontSize": 24}, "encoding": {"text": {"value": "x/R"}}},
          {"mark": {"type": "text", "dx": 8, "dy": 55, "fontSize": 17}, "encoding": {"text": {"value": "*"}}},
          {"mark": {"type": "text", "dx": 14, "dy": 82, "fontSize": 19}, "encoding": {"text": {"value": "o"}}}
         ]}
      ]
    },
    {
      "width": 248, "height": 248,
      "layer": [
        {"data": {"name": "zones"}, "transform": [{"filter": "datum.p == 'd' && datum.z == 1"}], "mark": {"type": "line", "fill": "#ececec", "color": "#222", "strokeWidth": 0.9},
         "encoding": {"x": {"field": "x", "type": "quantitative", "scale": {"domain": [-2, 2]}, "axis": null}, "y": {"field": "y", "type": "quantitative", "scale": {"domain": [-2, 2]}, "axis": null}, "detail": {"field": "c", "type": "nominal"}, "order": {"value": null}}},
        {"data": {"name": "marks"}, "transform": [{"filter": "datum.p == 'd'"}], "mark": {"type": "point", "shape": "M-0.55,-1L0.55,1M1,-0.45L-1,0.45", "size": 120, "filled": false, "color": "#111", "strokeWidth": 2.2, "opacity": 1},
         "encoding": {"x": {"field": "x", "type": "quantitative", "scale": {"domain": [-2, 2]}, "axis": null}, "y": {"field": "y", "type": "quantitative", "scale": {"domain": [-2, 2]}, "axis": null}}},
        {"data": {"name": "lines"}, "transform": [{"filter": "datum.p == 'd'"}], "mark": {"type": "line", "strokeWidth": 2, "color": "#111"},
         "encoding": {"x": {"field": "x", "type": "quantitative", "scale": {"domain": [-2, 2]}, "axis": null}, "y": {"field": "y", "type": "quantitative", "scale": {"domain": [-2, 2]}, "axis": null}, "detail": {"field": "c", "type": "nominal"}, "order": {"value": null}}},
        {"data": {"name": "crack"}, "mark": {"type": "line", "strokeWidth": 4.5, "color": "#000"},
         "encoding": {"x": {"field": "x", "type": "quantitative", "scale": {"domain": [-2, 2]}, "axis": null}, "y": {"field": "y", "type": "quantitative", "scale": {"domain": [-2, 2]}, "axis": null}, "order": {"value": null}}},
        {"data": {"name": "labels"}, "transform": [{"filter": "datum.p == 'd' && !(abs(datum.y) < 0.06 && datum.x < 0)"}], "mark": {"type": "text", "align": "center", "baseline": "middle", "fontSize": 19, "color": "#1a1a1a"},
         "encoding": {"x": {"field": "x", "type": "quantitative", "scale": {"domain": [-2, 2]}, "axis": null}, "y": {"field": "y", "type": "quantitative", "scale": {"domain": [-2, 2]}, "axis": null}, "text": {"field": "t", "type": "nominal"}, "angle": {"field": "r", "type": "quantitative", "scale": null}}},
        {"data": {"name": "labels"}, "transform": [{"filter": "datum.p == 'd' && abs(datum.y) < 0.06 && datum.x < 0"}], "mark": {"type": "text", "align": "center", "baseline": "middle", "fontSize": 19, "color": "#8a8a8a"},
         "encoding": {"x": {"field": "x", "type": "quantitative", "scale": {"domain": [-2, 2]}, "axis": null}, "y": {"field": "y", "type": "quantitative", "scale": {"domain": [-2, 2]}, "axis": null}, "text": {"field": "t", "type": "nominal"}}},
        {"data": {"name": "xt"}, "transform": [{"filter": "datum.v >= 0"}], "mark": {"type": "text", "align": "center", "baseline": "top", "fontSize": 21, "dy": 12},
         "encoding": {"x": {"field": "v", "type": "quantitative", "scale": {"domain": [-2, 2]}, "axis": null}, "y": {"datum": -2, "type": "quantitative", "scale": {"domain": [-2, 2]}, "axis": null}, "text": {"field": "t", "type": "nominal"}}},
        {"data": {"name": "xt"}, "transform": [{"filter": "datum.v < 0"}], "mark": {"type": "text", "align": "right", "baseline": "top", "fontSize": 21, "dy": 12, "dx": 1},
         "encoding": {"x": {"field": "v", "type": "quantitative", "scale": {"domain": [-2, 2]}, "axis": null}, "y": {"datum": -2, "type": "quantitative", "scale": {"domain": [-2, 2]}, "axis": null}, "text": {"field": "t", "type": "nominal"}}},
        {"data": {"name": "yt"}, "transform": [{"filter": "datum.v >= 0"}], "mark": {"type": "text", "align": "right", "baseline": "middle", "fontSize": 21, "dx": -8, "dy": 4},
         "encoding": {"x": {"datum": -2, "type": "quantitative", "scale": {"domain": [-2, 2]}, "axis": null}, "y": {"field": "v", "type": "quantitative", "scale": {"domain": [-2, 2]}, "axis": null}, "text": {"field": "t", "type": "nominal"}}},
        {"data": {"name": "yt"}, "transform": [{"filter": "datum.v < 0"}], "mark": {"type": "text", "align": "right", "baseline": "middle", "fontSize": 21, "dx": -15, "dy": 6},
         "encoding": {"x": {"datum": -2, "type": "quantitative", "scale": {"domain": [-2, 2]}, "axis": null}, "y": {"field": "v", "type": "quantitative", "scale": {"domain": [-2, 2]}, "axis": null}, "text": {"field": "t", "type": "nominal"}}},
        {"data": {"values": [{}]},
         "encoding": {"x": {"datum": 0, "type": "quantitative", "scale": {"domain": [-2, 2]}, "axis": null}, "y": {"datum": 2, "type": "quantitative", "scale": {"domain": [-2, 2]}, "axis": null}},
         "layer": [
          {"mark": {"type": "text", "dx": -60, "dy": -22}, "encoding": {"text": {"value": "v"}}},
          {"mark": {"type": "text", "dx": -48, "dy": -8, "fontSize": 19}, "encoding": {"text": {"value": "r"}}},
          {"mark": {"type": "text", "dx": -43, "dy": -22}, "encoding": {"text": {"value": "/"}}},
          {"mark": {"type": "text", "dx": -33, "dy": -22}, "encoding": {"text": {"value": "c"}}},
          {"mark": {"type": "text", "dx": -21, "dy": -8, "fontSize": 19}, "encoding": {"text": {"value": "s"}}},
          {"mark": {"type": "text", "dx": 0, "dy": -22}, "encoding": {"text": {"value": "=0"}}}
         ]},
        {"data": {"values": [{}]},
         "encoding": {"x": {"datum": 0, "type": "quantitative", "scale": {"domain": [-2, 2]}, "axis": null}, "y": {"datum": -2, "type": "quantitative", "scale": {"domain": [-2, 2]}, "axis": null}},
         "layer": [
          {"mark": {"type": "text", "dx": 13, "dy": 70, "fontSize": 24}, "encoding": {"text": {"value": "x/R"}}},
          {"mark": {"type": "text", "dx": 50, "dy": 54, "fontSize": 17}, "encoding": {"text": {"value": "*"}}},
          {"mark": {"type": "text", "dx": 56, "dy": 84, "fontSize": 19}, "encoding": {"text": {"value": "o"}}}
         ]},
        {"data": {"values": [{}]},
         "encoding": {"x": {"datum": -2, "type": "quantitative", "scale": {"domain": [-2, 2]}, "axis": null}, "y": {"datum": 0, "type": "quantitative", "scale": {"domain": [-2, 2]}, "axis": null}},
         "layer": [
          {"mark": {"type": "text", "angle": -90, "align": "center", "dx": -19, "dy": -44, "fontSize": 24}, "encoding": {"text": {"value": "y/R"}}},
          {"mark": {"type": "text", "align": "center", "dx": -39, "dy": -4, "fontSize": 19}, "encoding": {"text": {"value": "o"}}},
          {"mark": {"type": "text", "align": "center", "dx": -74, "dy": -7, "fontSize": 17}, "encoding": {"text": {"value": "*"}}}
         ]},
        {"data": {"values": [{}]},
         "encoding": {"x": {"datum": -2, "type": "quantitative", "scale": {"domain": [-2, 2]}, "axis": null}, "y": {"datum": 2, "type": "quantitative", "scale": {"domain": [-2, 2]}, "axis": null}},
         "layer": [
          {"mark": {"type": "text", "dx": -110, "dy": -57, "fontSize": 26}, "encoding": {"text": {"value": "σ"}}},
          {"mark": {"type": "text", "dx": -93, "dy": -73, "fontSize": 19}, "encoding": {"text": {"value": "o"}}},
          {"mark": {"type": "text", "dx": -93, "dy": -44, "fontSize": 22}, "encoding": {"text": {"value": "xx"}}},
          {"mark": {"type": "text", "dx": -70, "dy": -57, "fontSize": 26}, "encoding": {"text": {"value": "/"}}},
          {"mark": {"type": "text", "dx": -62, "dy": -57, "fontSize": 26}, "encoding": {"text": {"value": "σ"}}},
          {"mark": {"type": "text", "dx": -45, "dy": -73, "fontSize": 19}, "encoding": {"text": {"value": "o"}}},
          {"mark": {"type": "text", "dx": -47, "dy": -44, "fontSize": 22}, "encoding": {"text": {"value": "yy"}}},
          {"mark": {"type": "text", "dx": -15, "dy": -57, "fontSize": 26}, "encoding": {"text": {"value": "=0.8 (Ψ=64"}}},
          {"mark": {"type": "text", "dx": 123, "dy": -73, "fontSize": 19}, "encoding": {"text": {"value": "o"}}},
          {"mark": {"type": "text", "dx": 138, "dy": -57, "fontSize": 26}, "encoding": {"text": {"value": ")"}}}
         ]}
      ]
    },
    {
      "width": 248, "height": 248,
      "layer": [
        {"data": {"name": "zones"}, "transform": [{"filter": "datum.p == 'e' && datum.z == 1"}], "mark": {"type": "line", "fill": "#ececec", "color": "#222", "strokeWidth": 0.9},
         "encoding": {"x": {"field": "x", "type": "quantitative", "scale": {"domain": [-2, 2]}, "axis": null}, "y": {"field": "y", "type": "quantitative", "scale": {"domain": [-2, 2]}, "axis": null}, "detail": {"field": "c", "type": "nominal"}, "order": {"value": null}}},
        {"data": {"name": "marks"}, "transform": [{"filter": "datum.p == 'e'"}], "mark": {"type": "point", "shape": "M-0.55,-1L0.55,1M1,-0.45L-1,0.45", "size": 120, "filled": false, "color": "#111", "strokeWidth": 2.2, "opacity": 1},
         "encoding": {"x": {"field": "x", "type": "quantitative", "scale": {"domain": [-2, 2]}, "axis": null}, "y": {"field": "y", "type": "quantitative", "scale": {"domain": [-2, 2]}, "axis": null}}},
        {"data": {"name": "lines"}, "transform": [{"filter": "datum.p == 'e'"}], "mark": {"type": "line", "strokeWidth": 2, "color": "#111"},
         "encoding": {"x": {"field": "x", "type": "quantitative", "scale": {"domain": [-2, 2]}, "axis": null}, "y": {"field": "y", "type": "quantitative", "scale": {"domain": [-2, 2]}, "axis": null}, "detail": {"field": "c", "type": "nominal"}, "order": {"value": null}}},
        {"data": {"name": "crack"}, "mark": {"type": "line", "strokeWidth": 4.5, "color": "#000"},
         "encoding": {"x": {"field": "x", "type": "quantitative", "scale": {"domain": [-2, 2]}, "axis": null}, "y": {"field": "y", "type": "quantitative", "scale": {"domain": [-2, 2]}, "axis": null}, "order": {"value": null}}},
        {"data": {"name": "labels"}, "transform": [{"filter": "datum.p == 'e' && !(abs(datum.y) < 0.06 && datum.x < 0)"}], "mark": {"type": "text", "align": "center", "baseline": "middle", "fontSize": 19, "color": "#1a1a1a"},
         "encoding": {"x": {"field": "x", "type": "quantitative", "scale": {"domain": [-2, 2]}, "axis": null}, "y": {"field": "y", "type": "quantitative", "scale": {"domain": [-2, 2]}, "axis": null}, "text": {"field": "t", "type": "nominal"}, "angle": {"field": "r", "type": "quantitative", "scale": null}}},
        {"data": {"name": "labels"}, "transform": [{"filter": "datum.p == 'e' && abs(datum.y) < 0.06 && datum.x < 0"}], "mark": {"type": "text", "align": "center", "baseline": "middle", "fontSize": 19, "color": "#8a8a8a"},
         "encoding": {"x": {"field": "x", "type": "quantitative", "scale": {"domain": [-2, 2]}, "axis": null}, "y": {"field": "y", "type": "quantitative", "scale": {"domain": [-2, 2]}, "axis": null}, "text": {"field": "t", "type": "nominal"}}},
        {"data": {"name": "xt"}, "transform": [{"filter": "datum.v >= 0"}], "mark": {"type": "text", "align": "center", "baseline": "top", "fontSize": 21, "dy": 12},
         "encoding": {"x": {"field": "v", "type": "quantitative", "scale": {"domain": [-2, 2]}, "axis": null}, "y": {"datum": -2, "type": "quantitative", "scale": {"domain": [-2, 2]}, "axis": null}, "text": {"field": "t", "type": "nominal"}}},
        {"data": {"name": "xt"}, "transform": [{"filter": "datum.v < 0"}], "mark": {"type": "text", "align": "right", "baseline": "top", "fontSize": 21, "dy": 12, "dx": 1},
         "encoding": {"x": {"field": "v", "type": "quantitative", "scale": {"domain": [-2, 2]}, "axis": null}, "y": {"datum": -2, "type": "quantitative", "scale": {"domain": [-2, 2]}, "axis": null}, "text": {"field": "t", "type": "nominal"}}},
        {"data": {"name": "yt"}, "transform": [{"filter": "datum.v >= 0"}], "mark": {"type": "text", "align": "right", "baseline": "middle", "fontSize": 21, "dx": -8, "dy": 4},
         "encoding": {"x": {"datum": -2, "type": "quantitative", "scale": {"domain": [-2, 2]}, "axis": null}, "y": {"field": "v", "type": "quantitative", "scale": {"domain": [-2, 2]}, "axis": null}, "text": {"field": "t", "type": "nominal"}}},
        {"data": {"name": "yt"}, "transform": [{"filter": "datum.v < 0"}], "mark": {"type": "text", "align": "right", "baseline": "middle", "fontSize": 21, "dx": -15, "dy": 6},
         "encoding": {"x": {"datum": -2, "type": "quantitative", "scale": {"domain": [-2, 2]}, "axis": null}, "y": {"field": "v", "type": "quantitative", "scale": {"domain": [-2, 2]}, "axis": null}, "text": {"field": "t", "type": "nominal"}}},
        {"data": {"values": [{}]},
         "encoding": {"x": {"datum": 0, "type": "quantitative", "scale": {"domain": [-2, 2]}, "axis": null}, "y": {"datum": 2, "type": "quantitative", "scale": {"domain": [-2, 2]}, "axis": null}},
         "layer": [
          {"mark": {"type": "text", "dx": -60, "dy": -22}, "encoding": {"text": {"value": "v"}}},
          {"mark": {"type": "text", "dx": -48, "dy": -8, "fontSize": 19}, "encoding": {"text": {"value": "r"}}},
          {"mark": {"type": "text", "dx": -43, "dy": -22}, "encoding": {"text": {"value": "/"}}},
          {"mark": {"type": "text", "dx": -33, "dy": -22}, "encoding": {"text": {"value": "c"}}},
          {"mark": {"type": "text", "dx": -21, "dy": -8, "fontSize": 19}, "encoding": {"text": {"value": "s"}}},
          {"mark": {"type": "text", "dx": 0, "dy": -22}, "encoding": {"text": {"value": "=0.7"}}}
         ]},
        {"data": {"values": [{}]},
         "encoding": {"x": {"datum": 0, "type": "quantitative", "scale": {"domain": [-2, 2]}, "axis": null}, "y": {"datum": -2, "type": "quantitative", "scale": {"domain": [-2, 2]}, "axis": null}},
         "layer": [
          {"mark": {"type": "text", "dx": -28, "dy": 70, "fontSize": 24}, "encoding": {"text": {"value": "x/R"}}},
          {"mark": {"type": "text", "dx": 9, "dy": 54, "fontSize": 17}, "encoding": {"text": {"value": "*"}}},
          {"mark": {"type": "text", "dx": 15, "dy": 84, "fontSize": 19}, "encoding": {"text": {"value": "o"}}}
         ]}
      ]
    },
    {
      "width": 248, "height": 248,
      "layer": [
        {"data": {"name": "zones"}, "transform": [{"filter": "datum.p == 'f' && datum.z == 1"}], "mark": {"type": "line", "fill": "#efefef", "color": "#222", "strokeWidth": 0.9},
         "encoding": {"x": {"field": "x", "type": "quantitative", "scale": {"domain": [-2, 2]}, "axis": null}, "y": {"field": "y", "type": "quantitative", "scale": {"domain": [-2, 2]}, "axis": null}, "detail": {"field": "c", "type": "nominal"}, "order": {"value": null}}},
        {"data": {"name": "zones"}, "transform": [{"filter": "datum.p == 'f' && datum.z == 2"}], "mark": {"type": "line", "fill": "#c8c8c8", "color": "#222", "strokeWidth": 0.9},
         "encoding": {"x": {"field": "x", "type": "quantitative", "scale": {"domain": [-2, 2]}, "axis": null}, "y": {"field": "y", "type": "quantitative", "scale": {"domain": [-2, 2]}, "axis": null}, "detail": {"field": "c", "type": "nominal"}, "order": {"value": null}}},
        {"data": {"name": "marks"}, "transform": [{"filter": "datum.p == 'f'"}], "mark": {"type": "point", "shape": "M-0.55,-1L0.55,1M1,-0.45L-1,0.45", "size": 120, "filled": false, "color": "#111", "strokeWidth": 2.2, "opacity": 1},
         "encoding": {"x": {"field": "x", "type": "quantitative", "scale": {"domain": [-2, 2]}, "axis": null}, "y": {"field": "y", "type": "quantitative", "scale": {"domain": [-2, 2]}, "axis": null}}},
        {"data": {"name": "lines"}, "transform": [{"filter": "datum.p == 'f'"}], "mark": {"type": "line", "strokeWidth": 2, "color": "#111"},
         "encoding": {"x": {"field": "x", "type": "quantitative", "scale": {"domain": [-2, 2]}, "axis": null}, "y": {"field": "y", "type": "quantitative", "scale": {"domain": [-2, 2]}, "axis": null}, "detail": {"field": "c", "type": "nominal"}, "order": {"value": null}}},
        {"data": {"name": "crack"}, "mark": {"type": "line", "strokeWidth": 4.5, "color": "#000"},
         "encoding": {"x": {"field": "x", "type": "quantitative", "scale": {"domain": [-2, 2]}, "axis": null}, "y": {"field": "y", "type": "quantitative", "scale": {"domain": [-2, 2]}, "axis": null}, "order": {"value": null}}},
        {"data": {"name": "labels"}, "transform": [{"filter": "datum.p == 'f' && !(abs(datum.y) < 0.06 && datum.x < 0)"}], "mark": {"type": "text", "align": "center", "baseline": "middle", "fontSize": 19, "color": "#1a1a1a"},
         "encoding": {"x": {"field": "x", "type": "quantitative", "scale": {"domain": [-2, 2]}, "axis": null}, "y": {"field": "y", "type": "quantitative", "scale": {"domain": [-2, 2]}, "axis": null}, "text": {"field": "t", "type": "nominal"}, "angle": {"field": "r", "type": "quantitative", "scale": null}}},
        {"data": {"name": "labels"}, "transform": [{"filter": "datum.p == 'f' && abs(datum.y) < 0.06 && datum.x < 0"}], "mark": {"type": "text", "align": "center", "baseline": "middle", "fontSize": 19, "color": "#8a8a8a"},
         "encoding": {"x": {"field": "x", "type": "quantitative", "scale": {"domain": [-2, 2]}, "axis": null}, "y": {"field": "y", "type": "quantitative", "scale": {"domain": [-2, 2]}, "axis": null}, "text": {"field": "t", "type": "nominal"}}},
        {"data": {"name": "xt"}, "transform": [{"filter": "datum.v >= 0"}], "mark": {"type": "text", "align": "center", "baseline": "top", "fontSize": 21, "dy": 12},
         "encoding": {"x": {"field": "v", "type": "quantitative", "scale": {"domain": [-2, 2]}, "axis": null}, "y": {"datum": -2, "type": "quantitative", "scale": {"domain": [-2, 2]}, "axis": null}, "text": {"field": "t", "type": "nominal"}}},
        {"data": {"name": "xt"}, "transform": [{"filter": "datum.v < 0"}], "mark": {"type": "text", "align": "right", "baseline": "top", "fontSize": 21, "dy": 12, "dx": 1},
         "encoding": {"x": {"field": "v", "type": "quantitative", "scale": {"domain": [-2, 2]}, "axis": null}, "y": {"datum": -2, "type": "quantitative", "scale": {"domain": [-2, 2]}, "axis": null}, "text": {"field": "t", "type": "nominal"}}},
        {"data": {"name": "yt"}, "transform": [{"filter": "datum.v >= 0"}], "mark": {"type": "text", "align": "right", "baseline": "middle", "fontSize": 21, "dx": -8, "dy": 4},
         "encoding": {"x": {"datum": -2, "type": "quantitative", "scale": {"domain": [-2, 2]}, "axis": null}, "y": {"field": "v", "type": "quantitative", "scale": {"domain": [-2, 2]}, "axis": null}, "text": {"field": "t", "type": "nominal"}}},
        {"data": {"name": "yt"}, "transform": [{"filter": "datum.v < 0"}], "mark": {"type": "text", "align": "right", "baseline": "middle", "fontSize": 21, "dx": -15, "dy": 6},
         "encoding": {"x": {"datum": -2, "type": "quantitative", "scale": {"domain": [-2, 2]}, "axis": null}, "y": {"field": "v", "type": "quantitative", "scale": {"domain": [-2, 2]}, "axis": null}, "text": {"field": "t", "type": "nominal"}}},
        {"data": {"values": [{}]},
         "encoding": {"x": {"datum": 0, "type": "quantitative", "scale": {"domain": [-2, 2]}, "axis": null}, "y": {"datum": 2, "type": "quantitative", "scale": {"domain": [-2, 2]}, "axis": null}},
         "layer": [
          {"mark": {"type": "text", "dx": -63, "dy": -22}, "encoding": {"text": {"value": "v"}}},
          {"mark": {"type": "text", "dx": -51, "dy": -8, "fontSize": 19}, "encoding": {"text": {"value": "r"}}},
          {"mark": {"type": "text", "dx": -46, "dy": -22}, "encoding": {"text": {"value": "/"}}},
          {"mark": {"type": "text", "dx": -36, "dy": -22}, "encoding": {"text": {"value": "c"}}},
          {"mark": {"type": "text", "dx": -24, "dy": -8, "fontSize": 19}, "encoding": {"text": {"value": "s"}}},
          {"mark": {"type": "text", "dx": -2, "dy": -22}, "encoding": {"text": {"value": "=0.9"}}}
         ]},
        {"data": {"values": [{}]},
         "encoding": {"x": {"datum": 0, "type": "quantitative", "scale": {"domain": [-2, 2]}, "axis": null}, "y": {"datum": -2, "type": "quantitative", "scale": {"domain": [-2, 2]}, "axis": null}},
         "layer": [
          {"mark": {"type": "text", "dx": -29, "dy": 70, "fontSize": 24}, "encoding": {"text": {"value": "x/R"}}},
          {"mark": {"type": "text", "dx": 8, "dy": 54, "fontSize": 17}, "encoding": {"text": {"value": "*"}}},
          {"mark": {"type": "text", "dx": 14, "dy": 84, "fontSize": 19}, "encoding": {"text": {"value": "o"}}}
         ]}
      ]
    }
  ]
}
